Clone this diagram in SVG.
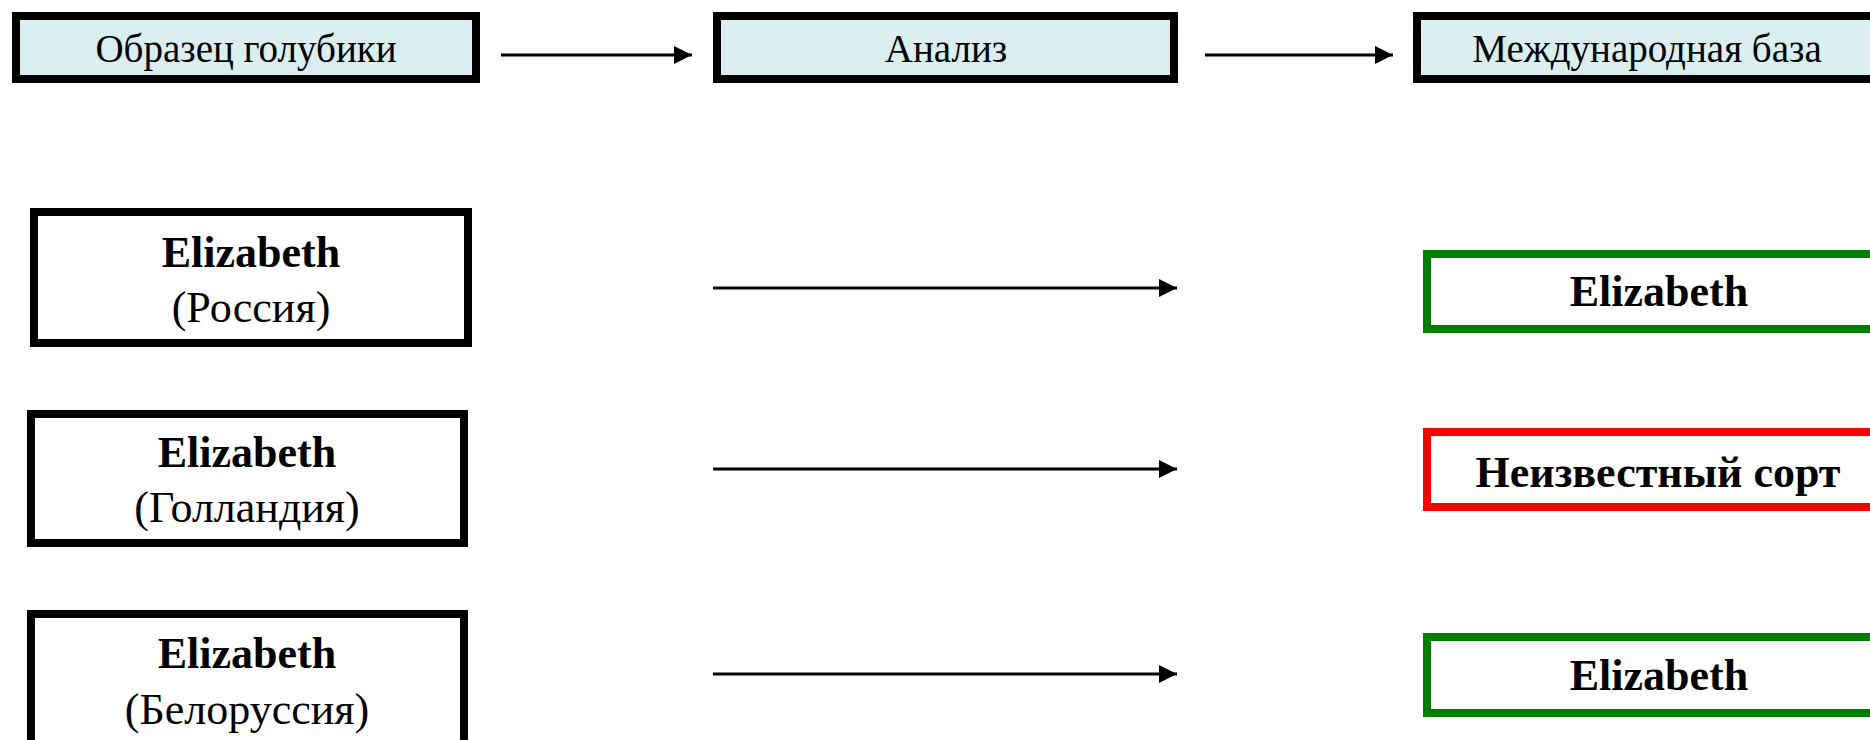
<svg xmlns="http://www.w3.org/2000/svg" width="1870" height="740" viewBox="0 0 1870 740">
<style>
.hdr{fill:#DAEDEF;stroke:#000;stroke-width:8}
.src{fill:#fff;stroke:#000;stroke-width:8}
.ok{fill:#fff;stroke:#008000;stroke-width:8}
.bad{fill:#fff;stroke:#FF0000;stroke-width:8}
text{font-family:"Liberation Serif","Times New Roman",serif;fill:#000;text-anchor:middle}
.t{font-size:39px}
.b{font-size:44px;font-weight:bold}
.r{font-size:44px}
.c{stroke:#000;stroke-width:3;fill:none;marker-end:url(#ah)}
</style>
<defs>
<marker id="ah" markerWidth="6" markerHeight="6" refX="6" refY="3" orient="auto" markerUnits="strokeWidth">
<path d="M0,0 L6,3 L0,6 Z" fill="#000"/>
</marker>
</defs>
<rect width="1870" height="740" fill="#fff"/>
<g id="connectors">
<line class="c" x1="501" y1="55" x2="692" y2="55"/>
<line class="c" x1="1205" y1="55" x2="1393" y2="55"/>
<line class="c" x1="713" y1="288" x2="1177" y2="288"/>
<line class="c" x1="713" y1="469" x2="1177" y2="469"/>
<line class="c" x1="713" y1="674" x2="1177" y2="674"/>
</g>
<g id="sample">
<rect class="hdr" x="16" y="16" width="460" height="63"/>
<text class="t" x="246" y="62">Образец голубики</text>
</g>
<g id="analysis">
<rect class="hdr" x="717" y="16" width="457" height="63"/>
<text class="t" x="946" y="62">Анализ</text>
</g>
<g id="database">
<rect class="hdr" x="1417" y="16" width="470" height="63"/>
<text class="t" x="1647" y="62">Международная база</text>
</g>
<g id="src-russia">
<rect class="src" x="34" y="212" width="434" height="131"/>
<text class="b" x="251" y="267">Elizabeth</text>
<text class="r" x="251" y="322">(Россия)</text>
</g>
<g id="src-holland">
<rect class="src" x="31" y="414" width="433" height="129"/>
<text class="b" x="247" y="467">Elizabeth</text>
<text class="r" x="247" y="522">(Голландия)</text>
</g>
<g id="src-belarus">
<rect class="src" x="31" y="614" width="433" height="140"/>
<text class="b" x="247" y="668">Elizabeth</text>
<text class="r" x="247" y="724">(Белоруссия)</text>
</g>
<g id="res-russia">
<rect class="ok" x="1427" y="254" width="470" height="75"/>
<text class="b" x="1659" y="306">Elizabeth</text>
</g>
<g id="res-holland">
<rect class="bad" x="1427" y="432" width="470" height="75"/>
<text class="b" x="1658" y="487">Неизвестный сорт</text>
</g>
<g id="res-belarus">
<rect class="ok" x="1427" y="637" width="470" height="76"/>
<text class="b" x="1659" y="690">Elizabeth</text>
</g>
</svg>
